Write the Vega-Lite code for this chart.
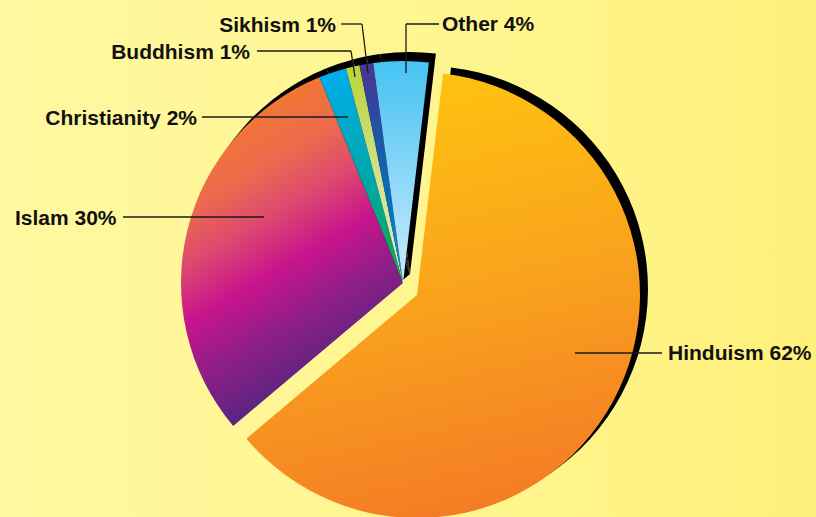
{
  "$schema": "https://vega.github.io/schema/vega-lite/v6.json",
  "width": 816,
  "height": 517,
  "autosize": {"type": "none"},
  "padding": 0,
  "background": "#FFF69A",
  "config": {"view": {"stroke": null}},
  "datasets": {
    "religions": [
      {"religion": "Hinduism", "pct": 62, "rank": 1},
      {"religion": "Islam", "pct": 30, "rank": 2},
      {"religion": "Christianity", "pct": 2, "rank": 3},
      {"religion": "Buddhism", "pct": 1, "rank": 4},
      {"religion": "Sikhism", "pct": 1, "rank": 5},
      {"religion": "Other", "pct": 4, "rank": 6}
    ],
    "labels": [
      {"label": "Other 4%", "side": "left", "x": 442, "y": 31},
      {"label": "Hinduism 62%", "side": "left", "x": 668, "y": 359.5},
      {"label": "Sikhism 1%", "side": "right", "x": 336, "y": 32},
      {"label": "Buddhism 1%", "side": "right", "x": 250, "y": 58.5},
      {"label": "Christianity 2%", "side": "right", "x": 197, "y": 124.5},
      {"label": "Islam 30%", "side": "right", "x": 116.5, "y": 224.5}
    ],
    "leaders": [
      {"x": 406, "y": 24, "x2": 439, "y2": 24},
      {"x": 406, "y": 24, "x2": 406, "y2": 73},
      {"x": 341, "y": 24, "x2": 362, "y2": 24},
      {"x": 362, "y": 24, "x2": 368, "y2": 73},
      {"x": 257, "y": 51, "x2": 351, "y2": 51},
      {"x": 351, "y": 51, "x2": 355, "y2": 77},
      {"x": 202, "y": 117, "x2": 348, "y2": 117},
      {"x": 123, "y": 217, "x2": 264, "y2": 217},
      {"x": 575, "y": 353, "x2": 662, "y2": 353}
    ]
  },
  "layer": [
    {
      "data": {"values": [{}]},
      "mark": {
        "type": "rect",
        "fill": {"gradient": "linear", "x1": 0, "y1": 0, "x2": 1, "y2": 0,
          "stops": [{"offset": 0, "color": "#FFF8A0"}, {"offset": 0.6, "color": "#FFF58E"}, {"offset": 1, "color": "#FFF07A"}]}
      },
      "encoding": {"x": {"value": 0}, "x2": {"value": "width"}, "y": {"value": 0}, "y2": {"value": "height"}}
    },
    {
      "data": {"name": "religions"},
      "mark": {"type": "arc", "radius": 222},
      "encoding": {
        "x": {"value": 410}, "y": {"value": 274},
        "theta": {"field": "pct", "type": "quantitative", "stack": true, "scale": {"range": [0.1169, 6.4001]}},
        "order": {"field": "rank", "type": "quantitative"},
        "fill": {"condition": {"test": "datum.religion === 'Hinduism'", "value": "transparent"}, "value": "#000000"}
      }
    },
    {
      "data": {"name": "religions"},
      "mark": {"type": "arc", "radius": 223},
      "encoding": {
        "x": {"value": 425}, "y": {"value": 289},
        "theta": {"field": "pct", "type": "quantitative", "stack": true, "scale": {"range": [0.1169, 6.4001]}},
        "order": {"field": "rank", "type": "quantitative"},
        "fill": {"condition": {"test": "datum.religion === 'Hinduism'", "value": "#000000"}, "value": "transparent"}
      }
    },
    {
      "data": {"name": "religions"},
      "mark": {"type": "arc", "radius": 222},
      "encoding": {
        "x": {"value": 403}, "y": {"value": 283},
        "theta": {"field": "pct", "type": "quantitative", "stack": true, "scale": {"range": [0.1169, 6.4001]}},
        "order": {"field": "rank", "type": "quantitative"},
        "fill": {
          "condition": [
            {"test": "datum.religion === 'Islam'", "value": {"gradient": "linear", "x1": 0.45, "y1": 0, "x2": 0.75, "y2": 0.8,
              "stops": [{"offset": 0, "color": "#F47A2B"}, {"offset": 0.25, "color": "#EC6A4E"}, {"offset": 0.42, "color": "#DC4870"}, {"offset": 0.6, "color": "#C8148C"}, {"offset": 0.8, "color": "#8B1F87"}, {"offset": 1, "color": "#5C2480"}]}},
            {"test": "datum.religion === 'Christianity'", "value": {"gradient": "linear", "x1": 0, "y1": 0, "x2": 0, "y2": 1,
              "stops": [{"offset": 0, "color": "#00ADEF"}, {"offset": 0.25, "color": "#00AACB"}, {"offset": 0.55, "color": "#00A7A4"}, {"offset": 0.8, "color": "#0CA66E"}, {"offset": 1, "color": "#1BA64B"}]}},
            {"test": "datum.religion === 'Buddhism'", "value": {"gradient": "linear", "x1": 0, "y1": 0, "x2": 0, "y2": 1,
              "stops": [{"offset": 0, "color": "#B9D438"}, {"offset": 0.4, "color": "#CBDF7C"}, {"offset": 1, "color": "#E9F1C9"}]}},
            {"test": "datum.religion === 'Sikhism'", "value": {"gradient": "linear", "x1": 0, "y1": 0, "x2": 0, "y2": 1,
              "stops": [{"offset": 0, "color": "#4B3493"}, {"offset": 0.35, "color": "#1E56A8"}, {"offset": 0.7, "color": "#0077C0"}, {"offset": 1, "color": "#2A9BD8"}]}},
            {"test": "datum.religion === 'Other'", "value": {"gradient": "linear", "x1": 0, "y1": 0, "x2": 0, "y2": 1,
              "stops": [{"offset": 0, "color": "#45C3F3"}, {"offset": 0.5, "color": "#88D6F7"}, {"offset": 1, "color": "#CDECFC"}]}}
          ],
          "value": "transparent"
        }
      }
    },
    {
      "data": {"name": "religions"},
      "mark": {"type": "arc", "radius": 223},
      "encoding": {
        "x": {"value": 417}, "y": {"value": 295},
        "theta": {"field": "pct", "type": "quantitative", "stack": true, "scale": {"range": [0.1169, 6.4001]}},
        "order": {"field": "rank", "type": "quantitative"},
        "fill": {
          "condition": {"test": "datum.religion === 'Hinduism'", "value": {"gradient": "linear", "x1": 0.4, "y1": 0, "x2": 0.6, "y2": 1,
            "stops": [{"offset": 0, "color": "#FFC30F"}, {"offset": 0.5, "color": "#F9A31D"}, {"offset": 1, "color": "#F47A25"}]}},
          "value": "transparent"
        }
      }
    },
    {
      "data": {"name": "leaders"},
      "mark": {"type": "rule", "color": "#1A1A1A", "strokeWidth": 1.3},
      "encoding": {
        "x": {"field": "x", "type": "quantitative", "scale": {"domain": [0, 816], "nice": false, "zero": false}, "axis": null},
        "y": {"field": "y", "type": "quantitative", "scale": {"domain": [0, 517], "nice": false, "zero": false, "reverse": true}, "axis": null},
        "x2": {"field": "x2"},
        "y2": {"field": "y2"}
      }
    },
    {
      "data": {"name": "labels"},
      "transform": [{"filter": "datum.side === 'left'"}],
      "mark": {"type": "text", "align": "left", "baseline": "alphabetic", "font": "Liberation Sans", "fontWeight": "bold", "fontSize": 21, "color": "#111111"},
      "encoding": {
        "x": {"field": "x", "type": "quantitative", "scale": {"domain": [0, 816], "nice": false, "zero": false}, "axis": null},
        "y": {"field": "y", "type": "quantitative", "scale": {"domain": [0, 517], "nice": false, "zero": false, "reverse": true}, "axis": null},
        "text": {"field": "label"}
      }
    },
    {
      "data": {"name": "labels"},
      "transform": [{"filter": "datum.side === 'right'"}],
      "mark": {"type": "text", "align": "right", "baseline": "alphabetic", "font": "Liberation Sans", "fontWeight": "bold", "fontSize": 21, "color": "#111111"},
      "encoding": {
        "x": {"field": "x", "type": "quantitative", "scale": {"domain": [0, 816], "nice": false, "zero": false}, "axis": null},
        "y": {"field": "y", "type": "quantitative", "scale": {"domain": [0, 517], "nice": false, "zero": false, "reverse": true}, "axis": null},
        "text": {"field": "label"}
      }
    }
  ]
}
